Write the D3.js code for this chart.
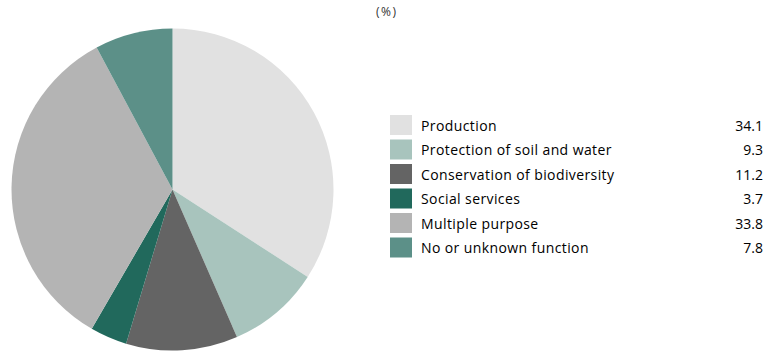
<!DOCTYPE html>
<html>
<head>
<meta charset="utf-8">
<script src="https://cdn.jsdelivr.net/npm/d3@7"></script>
<style>
  body { margin: 0; background: #fff; }
  svg { display: block; }
  text { font-family: "Open Sans", sans-serif; fill: #000; }
</style>
</head>
<body>
<svg class="pie-chart" width="766" height="351"></svg>
<script>
// data
var categories = ['Production', 'Protection of soil and water', 'Conservation of biodiversity',
                  'Social services', 'Multiple purpose', 'No or unknown function'];
var shares = [34.1, 9.3, 11.2, 3.7, 33.8, 7.8];
var valueLabels = ['34.1', '9.3', '11.2', '3.7', '33.8', '7.8'];
var unitLabel = '(%)';

var colors = ['#e1e1e1', '#a8c4bd', '#646464', '#21695c', '#b4b4b4', '#5c9088'];

var svg = d3.select('svg.pie-chart');

// layout
var pieCenter = {x: 172.5, y: 189.5};
var radius = 161;
var legend = {x: 390, y: 115, sw: 22, sh: 20, step: 24.5, textX: 421, valueX: 763};

var rows = categories.map(function(c, i) {
  return {name: c, value: shares[i], label: valueLabels[i], color: colors[i]};
});

/**********************
 Pie
**********************/
var pie = d3.pie().sort(null).value(function(d) { return d.value; });
var arc = d3.arc().innerRadius(0).outerRadius(radius);

var pieG = svg.append('g')
  .attr('transform', 'translate(' + [pieCenter.x, pieCenter.y] + ')');

pieG.selectAll('path')
  .data(pie(rows))
  .enter()
  .append('path')
  .attr('d', arc)
  .attr('fill', function(d) { return d.data.color; });

/**********************
 Unit label
**********************/
svg.append('text')
  .attr('x', 376)
  .attr('y', 16)
  .style('font-size', '12px')
  .style('letter-spacing', '1.5px')
  .style('fill', '#333')
  .text(unitLabel);

/**********************
 Legend
**********************/
var legendG = svg.append('g');

var items = legendG.selectAll('g.item')
  .data(rows)
  .enter()
  .append('g')
  .attr('class', 'item')
  .attr('transform', function(d, i) {
    return 'translate(0,' + (legend.y + i * legend.step) + ')';
  });

items.append('rect')
  .attr('x', legend.x)
  .attr('y', 0)
  .attr('width', legend.sw)
  .attr('height', legend.sh)
  .attr('fill', function(d) { return d.color; });

items.append('text')
  .attr('x', legend.textX)
  .attr('y', 15.5)
  .style('font-size', '14px')
  .style('letter-spacing', '0.4px')
  .text(function(d) { return d.name; });

items.append('text')
  .attr('x', legend.valueX)
  .attr('y', 15.5)
  .attr('text-anchor', 'end')
  .style('font-size', '14px')
  .text(function(d) { return d.label; });
</script>
</body>
</html>
